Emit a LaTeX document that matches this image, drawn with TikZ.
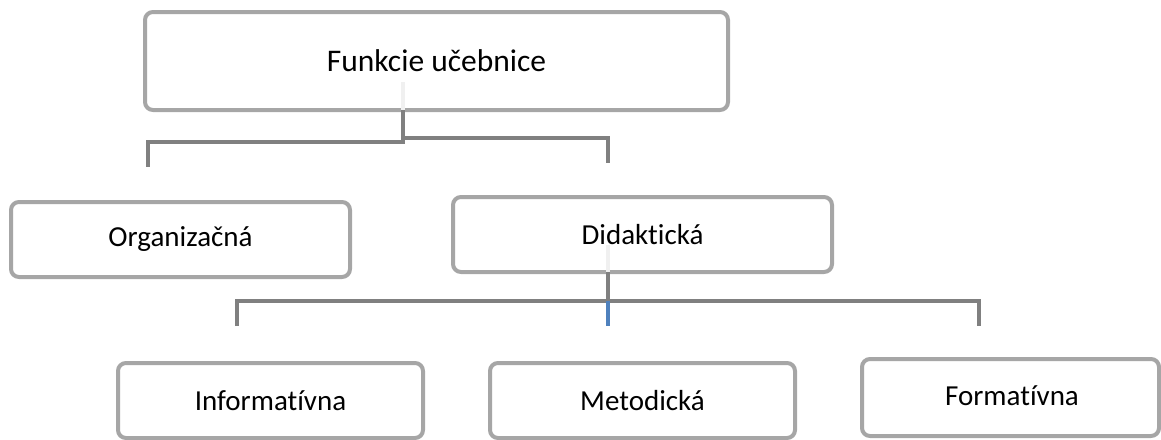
\documentclass[tikz,border=0pt]{standalone}
\usepackage{fontspec}
\setmainfont{Carlito}[Ligatures={NoCommon}]
\definecolor{boxgray}{HTML}{A6A6A6}
\definecolor{linegray}{HTML}{808080}
\definecolor{lightline}{HTML}{F0F0F0}
\definecolor{accentblue}{HTML}{4F81BD}
\tikzset{
  box/.style={draw=boxgray, line width=4pt, rounded corners=8pt, fill=white,
    outer sep=0pt, inner sep=0pt, font=\fontsize{29}{34}\selectfont},
  conn/.style={draw=linegray, line width=4pt},
  lightconn/.style={draw=lightline, line width=4pt},
  blueconn/.style={draw=accentblue, line width=4pt}
}
\begin{document}
\begin{tikzpicture}[x=1pt,y=-1pt]
\useasboundingbox (0,0) rectangle (1161,439);
% boxes
\node[box, minimum width=583pt, minimum height=98pt, font=\fontsize{31.5}{36}\selectfont] (top) at (436.5,61) {Funkcie učebnice};
\node[box, minimum width=339pt, minimum height=75pt] (org) at (180.5,239.5) {Organizačná};
\node[box, minimum width=379pt, minimum height=75pt] (did) at (642.5,234.5) {Didaktická};
\node[box, minimum width=305pt, minimum height=75pt] (inf) at (270.5,400.5) {Informatívna};
\node[box, minimum width=305pt, minimum height=75pt] (met) at (642.5,400.5) {Metodická};
\node[box, minimum width=297pt, minimum height=77pt] (form) at (1010.5,397.5) {};
\node[font=\fontsize{29}{34}\selectfont] (formtext) at (1012,396) {Formatívna};
% upper connectors
\coordinate (ta) at (403,82);
\coordinate (tl) at (148,167);
\coordinate (tr) at (608,163);
\draw[lightconn] (ta) -- (ta |- top.south);
\draw[conn] (ta |- top.south) -- (403,142) -- (tl |- 0,142) -- (tl);
\draw[conn] (403,140) -- (403,138) -- (tr |- 0,138) -- (tr);
% lower connectors
\coordinate (da) at (608,245);
\coordinate (hb) at (608,301);
\coordinate (bl) at (237,326);
\coordinate (bm) at (608,326);
\coordinate (br) at (979,326);
\draw[lightconn] (da) -- (da |- did.south);
\draw[conn] (da |- did.south) -- (hb);
\draw[conn] (bl) -- (bl |- hb) -- (br |- hb) -- (br);
\draw[blueconn] (hb) -- (bm);
\end{tikzpicture}
\end{document}
